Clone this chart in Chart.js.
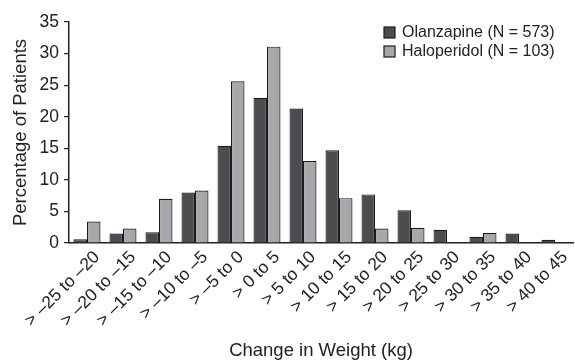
<!DOCTYPE html>
<html>
<head>
<meta charset="utf-8">
<script src="https://cdn.jsdelivr.net/npm/chart.js@4"></script>
<style>
  html, body { margin: 0; padding: 0; background: #fff; }
  #wrap { width: 575px; height: 362px; position: relative; }
</style>
</head>
<body>
<div id="wrap"><canvas id="weight-chart"></canvas></div>
<script>
// 体重变化分组
const weightBins = [
    '> \u201325 to \u201320', '> \u201320 to \u201315', '> \u201315 to \u201310', '> \u201310 to \u20135',
    '> \u20135 to 0', '> 0 to 5', '> 5 to 10', '> 10 to 15', '> 15 to 20', '> 20 to 25',
    '> 25 to 30', '> 30 to 35', '> 35 to 40', '> 40 to 45'
];
// 各组患者百分比
const olanzapineValues = [0.6, 1.5, 1.7, 8.0, 15.4, 23.0, 21.3, 14.7, 7.7, 5.2, 2.1, 1.0, 1.5, 0.5];
const haloperidolValues = [3.4, 2.3, 7.0, 8.3, 25.6, 31.1, 13.0, 7.1, 2.3, 2.4, null, 1.6, null, null];
const yTicks = [0, 5, 10, 15, 20, 25, 30, 35];

const FONT = '"Liberation Sans", Arial, Helvetica, sans-serif';
const TEXT = '#222';

// 图例画在绘图区右上角
const cornerLegend = {
    id: 'cornerLegend',
    afterDraw(chart) {
        const ctx = chart.ctx;
        const area = chart.chartArea;
        const x0 = area.right - 189;
        ctx.save();
        ctx.font = '16px ' + FONT;
        ctx.textBaseline = 'middle';
        chart.data.datasets.forEach((ds, i) => {
            const y = area.top + 5 + i * 19;
            ctx.fillStyle = ds.backgroundColor;
            ctx.fillRect(x0, y, 11, 11);
            ctx.strokeStyle = ds.borderColor;
            ctx.lineWidth = 1.2;
            ctx.strokeRect(x0, y, 11, 11);
            ctx.fillStyle = TEXT;
            ctx.fillText(ds.label, x0 + 18, y + 6);
        });
        ctx.restore();
    }
};

new Chart(document.getElementById('weight-chart'), {
    type: 'bar',
    data: {
        labels: weightBins,
        datasets: [{
            label: 'Olanzapine (N = 573)',
            data: olanzapineValues,
            backgroundColor: '#4b4c50',
            borderColor: '#1c1c1c',
            borderWidth: 1.2,
            borderSkipped: 'bottom'
        }, {
            label: 'Haloperidol (N = 103)',
            data: haloperidolValues,
            backgroundColor: '#a7a8ab',
            borderColor: '#1c1c1c',
            borderWidth: 1.2,
            borderSkipped: 'bottom'
        }]
    },
    options: {
        responsive: true,
        maintainAspectRatio: false,
        animation: false,
        devicePixelRatio: 1,
        categoryPercentage: 0.75,
        barPercentage: 1.0,
        layout: { padding: { left: 0, right: 2, top: 22, bottom: 0 } },
        plugins: {
            legend: { display: false },
            tooltip: { enabled: false }
        },
        scales: {
            x: {
                afterFit(scale) { scale.height = 119; },
                grid: { display: false, drawTicks: false },
                border: { display: true, color: '#222', width: 1.5 },
                ticks: {
                    color: TEXT,
                    font: { family: FONT, size: 17.5 },
                    minRotation: 45,
                    maxRotation: 45,
                    autoSkip: false,
                    labelOffset: 10,
                    padding: 4
                },
                title: {
                    display: true,
                    text: 'Change in Weight (kg)',
                    color: TEXT,
                    font: { family: FONT, size: 18.5 },
                    padding: { top: 0, bottom: 0 }
                }
            },
            y: {
                min: 0,
                max: 35,
                afterFit(scale) { scale.width = 69; },
                afterBuildTicks(scale) { scale.ticks = yTicks.map(v => ({ value: v })); },
                grid: { drawOnChartArea: false, tickLength: 5, color: '#222', lineWidth: 1.2 },
                border: { display: true, color: '#222', width: 1.5 },
                ticks: {
                    color: TEXT,
                    font: { family: FONT, size: 17.5 },
                    padding: 5
                },
                title: {
                    display: true,
                    text: 'Percentage of Patients',
                    color: TEXT,
                    font: { family: FONT, size: 18.5 },
                    padding: { top: 10, bottom: 0 }
                }
            }
        }
    },
    plugins: [cornerLegend]
});
</script>
</body>
</html>
